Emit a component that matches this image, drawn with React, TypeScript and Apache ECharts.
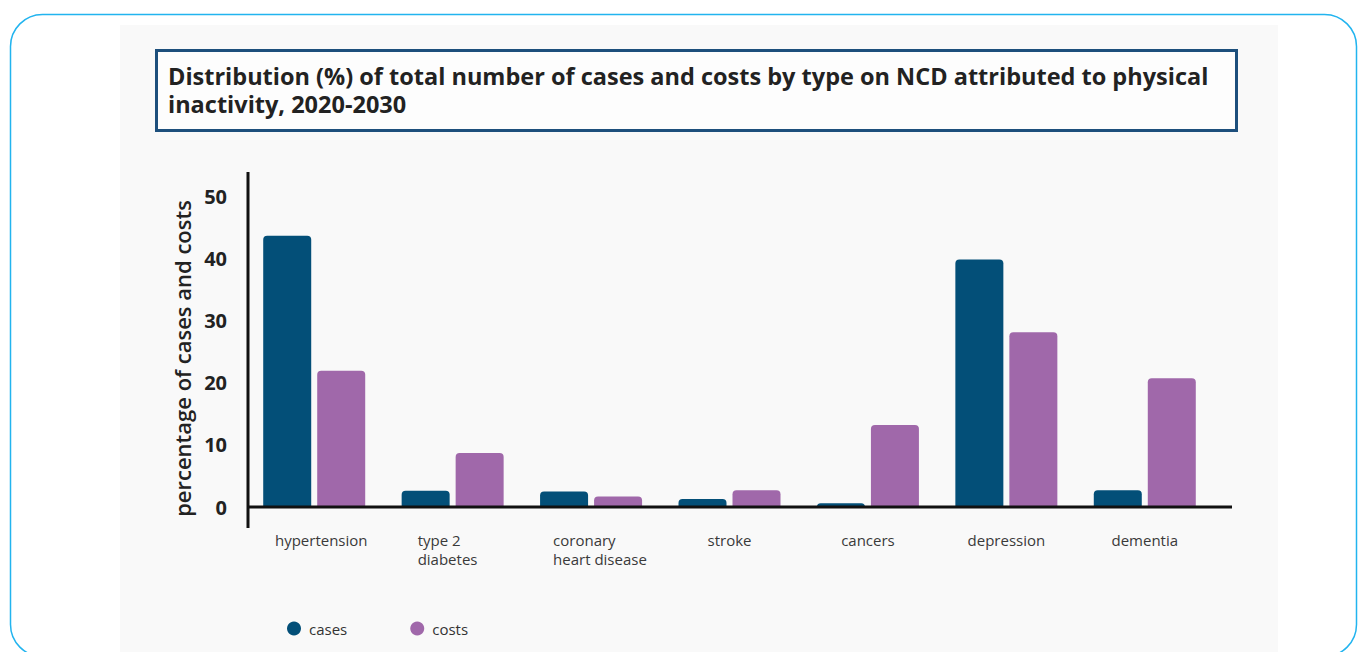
import React, { useEffect, useRef } from "react";
import * as echarts from "echarts";

const categories = [
  "hypertension",
  "type 2\ndiabetes",
  "coronary\nheart disease",
  "stroke",
  "cancers",
  "depression",
  "dementia",
];
const casesValues = [43.6, 2.6, 2.5, 1.3, 0.6, 39.8, 2.7];
const costsValues = [21.9, 8.7, 1.7, 2.7, 13.2, 28.1, 20.7];
const seriesNames = ["cases", "costs"];
const titleText =
  "Distribution (%) of total number of cases and costs by type on NCD attributed to physical\ninactivity, 2020-2030";
const yAxisName = "percentage of cases and costs";

const FONT = "'Open Sans', 'Noto Sans', sans-serif";

export default function App() {
  const ref = useRef<HTMLDivElement>(null);
  useEffect(() => {
    document.body.style.margin = "0";
    if (!ref.current) return;
    const chart = echarts.init(ref.current, null, { renderer: "svg" });
    const labelStyleKey = (v: string) => {
      if (v.indexOf("heart") >= 0) return "b";
      if (v.indexOf("\n") >= 0) return "a";
      if (v === "hypertension") return "h";
      return "";
    };
    const base = { lineHeight: 19, fontSize: 15, color: "#3a3a3a", fontFamily: FONT };
    chart.setOption({
      animation: false,
      backgroundColor: "#ffffff",
      textStyle: { fontFamily: FONT },
      title: {
        text: titleText,
        left: 168,
        top: 61.5,
        padding: 0,
        textStyle: {
          fontFamily: FONT,
          fontSize: 23.5,
          fontWeight: "bold",
          color: "#222222",
          lineHeight: 28.5,
        },
      },
      legend: {
        data: seriesNames,
        left: 287,
        top: 621,
        icon: "circle",
        itemWidth: 14,
        itemHeight: 14,
        itemGap: 63,
        padding: 0,
        textStyle: {
          fontFamily: FONT,
          fontSize: 15,
          color: "#333333",
          padding: [0, 0, 0, 3],
        },
      },
      grid: { left: 245, right: 144, top: 196, bottom: 145 },
      xAxis: {
        type: "category",
        data: categories,
        axisLine: { show: false },
        axisTick: { show: false },
        axisLabel: {
          margin: 23,
          fontFamily: FONT,
          fontSize: 15,
          color: "#3a3a3a",
          lineHeight: 19,
          interval: 0,
          formatter: (v: string) => {
            const k = labelStyleKey(v);
            if (!k) return v;
            return v
              .split("\n")
              .map((l) => `{${k}|${l}}`)
              .join("\n");
          },
          rich: {
            a: { ...base, width: 70, align: "left" },
            b: { ...base, width: 76, align: "left" },
            h: { ...base, padding: [0, 0, 0, 14] },
          },
        },
      },
      yAxis: {
        type: "value",
        min: 0,
        max: 50,
        interval: 10,
        name: yAxisName,
        nameLocation: "middle",
        nameGap: 50,
        nameTextStyle: {
          fontFamily: FONT,
          fontSize: 22,
          fontWeight: 600,
          color: "#222222",
          padding: [0, 14, 0, 0],
        },
        axisLine: { show: false },
        axisTick: { show: false },
        splitLine: { show: false },
        axisLabel: {
          margin: 18,
          fontFamily: FONT,
          fontSize: 20,
          fontWeight: "bold",
          color: "#222222",
        },
      },
      series: [
        {
          name: seriesNames[0],
          type: "bar",
          data: casesValues,
          barWidth: 48,
          barGap: "12.5%",
          itemStyle: { color: "#034f78", borderRadius: [4, 4, 0, 0] },
        },
        {
          name: seriesNames[1],
          type: "bar",
          data: costsValues,
          barWidth: 48,
          barGap: "12.5%",
          itemStyle: { color: "#a068aa", borderRadius: [4, 4, 0, 0] },
        },
      ],
      graphic: [
        {
          type: "rect",
          z: -10,
          silent: true,
          shape: { x: 120, y: 25, width: 1158, height: 640 },
          style: { fill: "#f9f9f9" },
        },
        {
          type: "rect",
          z: -5,
          silent: true,
          shape: { x: 156.5, y: 50.5, width: 1080, height: 80 },
          style: { fill: "#fdfdfd", stroke: "#1d4f7c", lineWidth: 3 },
        },
        {
          type: "rect",
          z: 100,
          silent: true,
          shape: { x: 10.5, y: 14.5, width: 1346, height: 642, r: 32 },
          style: { fill: "none", stroke: "#22b4ef", lineWidth: 1.5 },
        },
        {
          type: "line",
          z: 50,
          silent: true,
          shape: { x1: 248, y1: 172, x2: 248, y2: 528 },
          style: { stroke: "#111111", lineWidth: 3 },
        },
        {
          type: "line",
          z: 50,
          silent: true,
          shape: { x1: 248, y1: 507, x2: 1232, y2: 507 },
          style: { stroke: "#111111", lineWidth: 3 },
        },
      ],
    });
    return () => chart.dispose();
  }, []);
  return <div ref={ref} style={{ width: 1358, height: 652 }} />;
}
